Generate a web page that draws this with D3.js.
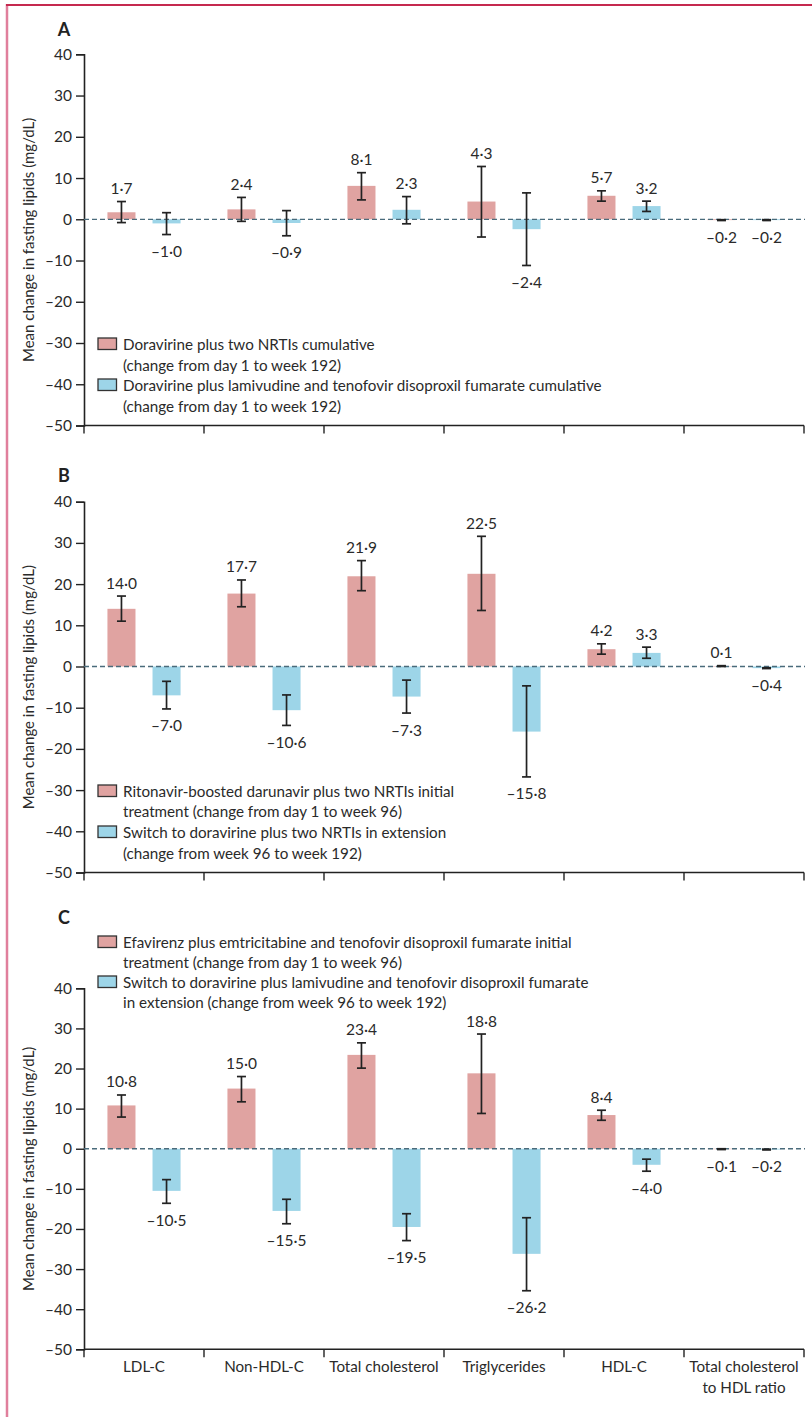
<!DOCTYPE html>
<html><head><meta charset="utf-8">
<script src="https://cdn.jsdelivr.net/npm/d3@7"></script>
<style>
html,body{margin:0;padding:0;background:#fff;}
svg{display:block;font-family:Lato,"Noto Sans",sans-serif;}
</style></head>
<body>
<svg id="chart" width="812" height="1417"></svg>
<script>
// ---------- DATA ----------
const categories = ["LDL-C","Non-HDL-C","Total cholesterol","Triglycerides","HDL-C","Total cholesterol|to HDL ratio"];
const yTicks = [40,30,20,10,0,-10,-20,-30,-40,-50];

// Panel A
const aPinkMean = [1.7, 2.4, 8.1, 4.3, 5.7, -0.2];
const aPinkLow  = [-0.8, -0.5, 4.7, -4.3, 4.4, -0.3];
const aPinkHigh = [4.3, 5.3, 11.3, 12.8, 6.9, -0.1];
const aBlueMean = [-1.0, -0.9, 2.3, -2.4, 3.2, -0.2];
const aBlueLow  = [-3.7, -4.0, -1.1, -11.2, 1.9, -0.3];
const aBlueHigh = [1.6, 2.1, 5.5, 6.4, 4.4, -0.1];
const aLegend = [
  ["Doravirine plus two NRTIs cumulative", "(change from day 1 to week 192)"],
  ["Doravirine plus lamivudine and tenofovir disoproxil fumarate cumulative", "(change from day 1 to week 192)"]
];

// Panel B
const bPinkMean = [14.0, 17.7, 21.9, 22.5, 4.2, 0.1];
const bPinkLow  = [11.0, 14.5, 18.4, 13.6, 3.0, 0.0];
const bPinkHigh = [17.1, 21.0, 25.7, 31.6, 5.5, 0.2];
const bBlueMean = [-7.0, -10.6, -7.3, -15.8, 3.3, -0.4];
const bBlueLow  = [-10.3, -14.3, -11.3, -26.8, 2.0, -0.5];
const bBlueHigh = [-3.6, -6.9, -3.3, -4.7, 4.7, -0.3];
const bLegend = [
  ["Ritonavir-boosted darunavir plus two NRTIs initial", "treatment (change from day 1 to week 96)"],
  ["Switch to doravirine plus two NRTIs in extension", "(change from week 96 to week 192)"]
];

// Panel C
const cPinkMean = [10.8, 15.0, 23.4, 18.8, 8.4, -0.1];
const cPinkLow  = [7.9, 11.7, 20.1, 8.8, 7.1, -0.2];
const cPinkHigh = [13.4, 18.0, 26.4, 28.6, 9.6, 0.0];
const cBlueMean = [-10.5, -15.5, -19.5, -26.2, -4.0, -0.2];
const cBlueLow  = [-13.6, -18.7, -22.9, -35.4, -5.6, -0.3];
const cBlueHigh = [-7.7, -12.6, -16.2, -17.2, -2.6, -0.1];
const cLegend = [
  ["Efavirenz plus emtricitabine and tenofovir disoproxil fumarate initial", "treatment (change from day 1 to week 96)"],
  ["Switch to doravirine plus lamivudine and tenofovir disoproxil fumarate", "in extension (change from week 96 to week 192)"]
];

const seriesKeys = ["pink","blue"];
const colors = {pink:"#e0a3a1", blue:"#9dd5e8"};
const yTitle = "Mean change in fasting lipids (mg/dL)";

// ---------- DRAW ----------
const svg = d3.select("#chart");
const textColor = "#2a2a2a";
const axisColor = "#222";

// page border
svg.append("line").attr("x1",7).attr("x2",7).attr("y1",4).attr("y2",1417)
  .attr("stroke","#e07f9c").attr("stroke-width",2.5);
svg.append("line").attr("x1",6).attr("x2",812).attr("y1",5).attr("y2",5)
  .attr("stroke","#c5294f").attr("stroke-width",1.8);

const fmt = v => {
  const s = d3.format(".1f")(Math.abs(v)).replace(".", "\u00b7");
  return (v < 0 ? "\u2013" : "") + s;
};

const x = d3.scaleBand().domain(categories).range([84, 804]).padding(0);
const x1 = d3.scaleBand().domain(seriesKeys).range([0, 120]).paddingInner(0.378).paddingOuter(0.52);

const panels = [
  {letter:"A", letterY:36, range:[425.5, 54.3], legend:aLegend, legendY:[345,386], swatchY:[338,379],
   pink:{m:aPinkMean,l:aPinkLow,h:aPinkHigh}, blue:{m:aBlueMean,l:aBlueLow,h:aBlueHigh}, xlabels:false},
  {letter:"B", letterY:482, range:[872.5, 501.7], legend:bLegend, legendY:[791.7,833.3], swatchY:[785,826],
   pink:{m:bPinkMean,l:bPinkLow,h:bPinkHigh}, blue:{m:bBlueMean,l:bBlueLow,h:bBlueHigh}, xlabels:false},
  {letter:"C", letterY:924, range:[1349.3, 988.3], legend:cLegend, legendY:[942.7,982.7], swatchY:[936,976],
   pink:{m:cPinkMean,l:cPinkLow,h:cPinkHigh}, blue:{m:cBlueMean,l:cBlueLow,h:cBlueHigh}, xlabels:true}
];

panels.forEach(p => {
  const g = svg.append("g");
  const y = d3.scaleLinear().domain([-50, 40]).range(p.range);

  // panel letter
  g.append("text").attr("x",64).attr("y",p.letterY).attr("text-anchor","middle")
    .attr("font-size",18).attr("font-weight","bold").attr("fill","#222").text(p.letter);

  // y axis
  const yAxis = g.append("g").attr("transform","translate(84,0)")
    .call(d3.axisLeft(y).tickValues(yTicks).tickSize(8).tickPadding(4)
      .tickFormat(v => v < 0 ? "\u2013" + Math.abs(v) : String(v)));
  yAxis.select(".domain").attr("stroke",axisColor).attr("stroke-width",1.6);
  yAxis.selectAll(".tick line").attr("stroke",axisColor).attr("stroke-width",1.4);
  yAxis.selectAll(".tick text").attr("font-size",15.5).attr("fill",textColor)
    .attr("font-family","Lato, sans-serif");

  // y title
  const yc = (p.range[0] + p.range[1]) / 2;
  g.append("text").attr("transform",`translate(33.5,${yc}) rotate(-90)`)
    .attr("text-anchor","middle").attr("font-size",15).attr("fill",textColor).text(yTitle);

  // x axis
  const xAxisY = y(-50);
  g.append("line").attr("x1",84).attr("x2",804).attr("y1",xAxisY).attr("y2",xAxisY)
    .attr("stroke",axisColor).attr("stroke-width",1.6);
  const bounds = categories.map(c => x(c)).concat([x.range()[1]]);
  g.selectAll(".xt").data(bounds).join("line")
    .attr("x1",d=>d).attr("x2",d=>d).attr("y1",xAxisY).attr("y2",xAxisY+8)
    .attr("stroke",axisColor).attr("stroke-width",1.4);

  if (p.xlabels) {
    categories.forEach(c => {
      const lines = c.split("|");
      const t = g.append("text").attr("x", x(c) + x.bandwidth()/2).attr("y", xAxisY + 23)
        .attr("text-anchor","middle").attr("font-size",15.2).attr("fill",textColor);
      lines.forEach((ln,i) => t.append("tspan").attr("x", x(c) + x.bandwidth()/2)
        .attr("dy", i === 0 ? 0 : 20.5).text(ln));
    });
  }

  // bars
  const rows = [];
  categories.forEach((c,i) => {
    seriesKeys.forEach(k => rows.push({c, k, m:p[k].m[i], l:p[k].l[i], h:p[k].h[i]}));
  });
  g.selectAll(".bar").data(rows).join("rect")
    .attr("x", d => x(d.c) + x1(d.k))
    .attr("width", x1.bandwidth())
    .attr("y", d => Math.min(y(d.m), y(0)))
    .attr("height", d => Math.abs(y(d.m) - y(0)))
    .attr("fill", d => colors[d.k]);

  // zero line
  g.append("line").attr("x1",84).attr("x2",805).attr("y1",y(0)).attr("y2",y(0))
    .attr("stroke","#4a6b7b").attr("stroke-width",1.3).attr("stroke-dasharray","5,3");

  // error bars
  const cx = d => x(d.c) + x1(d.k) + x1.bandwidth()/2;
  const eb = g.selectAll(".eb").data(rows).join("g").attr("stroke","#222").attr("stroke-width",1.7);
  eb.append("line").attr("x1",cx).attr("x2",cx).attr("y1",d=>y(d.h)).attr("y2",d=>y(d.l));
  eb.append("line").attr("x1",d=>cx(d)-4.5).attr("x2",d=>cx(d)+4.5).attr("y1",d=>y(d.h)).attr("y2",d=>y(d.h));
  eb.append("line").attr("x1",d=>cx(d)-4.5).attr("x2",d=>cx(d)+4.5).attr("y1",d=>y(d.l)).attr("y2",d=>y(d.l));

  // value labels
  g.selectAll(".vl").data(rows).join("text")
    .attr("x", cx)
    .attr("y", d => d.m >= 0 ? y(d.h) - 7.5 : y(d.l) + 22.5)
    .attr("text-anchor","middle").attr("font-size",15.5).attr("fill",textColor)
    .text(d => fmt(d.m));

  // legend
  p.legend.forEach((lines, i) => {
    g.append("rect").attr("x",98).attr("y",p.swatchY[i]).attr("width",18.5).attr("height",11.5)
      .attr("fill", colors[seriesKeys[i]]).attr("stroke","#333").attr("stroke-width",1.3);
    lines.forEach((ln, j) => {
      g.append("text").attr("x",123).attr("y", p.legendY[i] + j*20.5 + 5)
        .attr("font-size",15.2).attr("fill",textColor).text(ln);
    });
  });
});
</script>
</body></html>
